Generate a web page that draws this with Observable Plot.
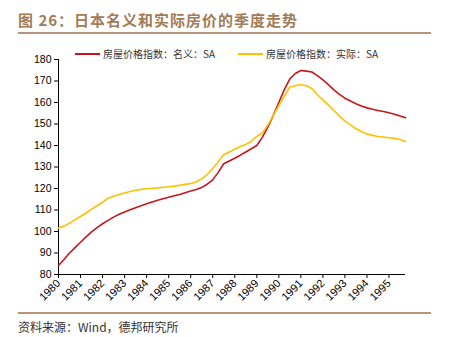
<!DOCTYPE html>
<html><head><meta charset="utf-8">
<script src="https://cdn.jsdelivr.net/npm/d3@7"></script>
<script src="https://cdn.jsdelivr.net/npm/@observablehq/plot@0.6"></script>
<style>
body{margin:0;background:#fff;}
#wrap{position:relative;width:449px;height:337px;overflow:hidden;font-family:"Noto Sans CJK SC",sans-serif;background:#fff;}
#title{position:absolute;left:18px;top:9px;font-size:15px;font-weight:bold;color:#a27b55;white-space:nowrap;letter-spacing:1px;}
.rule{position:absolute;left:18px;width:413px;height:2px;background:#b8957a;}
.leg{position:absolute;top:46px;font-size:10px;color:#333;white-space:nowrap;display:flex;align-items:center;}
.leg span.sw{display:inline-block;width:25px;height:2px;margin-right:3px;}
#chart{position:absolute;left:0;top:40px;}
#src{position:absolute;left:18px;top:318px;font-size:12px;color:#333;white-space:nowrap;}
</style></head><body>
<div id="wrap">
 <div id="title">图 26：日本名义和实际房价的季度走势</div>
 <div class="rule" style="top:32px"></div>
 <div class="leg" style="left:75px"><span class="sw" style="background:#c8161d"></span>房屋价格指数：名义：SA</div>
 <div class="leg" style="left:238px"><span class="sw" style="background:#ffc000"></span>房屋价格指数：实际：SA</div>
 <div id="chart"></div>
 <div class="rule" style="top:312px"></div>
 <div id="src">资料来源：Wind，德邦研究所</div>
</div>
<script>
const years = d3.range(1980, 1996);
const quarters = years.flatMap(y => [1,2,3,4].map(q => `${y}Q${q}`));
const nominal = [
 84.2, 87, 90, 92.5,
 95, 97.5, 99.8, 101.8,
 103.6, 105.2, 106.7, 108,
 109.1, 110.1, 111.1, 112,
 112.9, 113.7, 114.5, 115.2,
 115.9, 116.6, 117.2, 118,
 118.8, 119.5, 120.5, 122,
 124, 127.5, 131.5, 132.8,
 134.1, 135.5, 137, 138.5,
 140, 143.8, 148.5, 154,
 160, 166, 171, 173.5,
 174.9, 174.6, 174.2, 172.5,
 170.5, 168.3, 165.9, 163.8,
 162, 160.7, 159.4, 158.4,
 157.5, 156.9, 156.3, 155.8,
 155.2, 154.5, 153.7, 152.9
];
const real = [
 101.6, 102.5, 103.8, 105.5,
 107, 108.6, 110.4, 112,
 113.6, 115.5, 116.4, 117.2,
 117.9, 118.6, 119.2, 119.6,
 119.9, 120.1, 120.3, 120.6,
 120.8, 121.1, 121.5, 121.9,
 122.3, 123, 124.5, 126.5,
 129.2, 132.5, 135.7, 137,
 138.3, 139.5, 140.5, 142,
 144.2, 145.8, 149.5, 154,
 158.6, 163, 167.2, 167.8,
 168.4, 167.8, 166.5, 163.6,
 161.2, 158.8, 156.3, 153.8,
 151.3, 149.6, 147.8, 146.5,
 145.4, 144.7, 144.2, 143.9,
 143.6, 143.3, 142.8, 141.9
];
const seriesNames = ["房屋价格指数：名义：SA", "房屋价格指数：实际：SA"];
const colors = ["#c8161d", "#ffc000"];
const yTicks = d3.range(80, 181, 10);

const toT = s => +s.slice(0,4) + (+s.slice(5) - 1) / 4;
const data = [
  ...quarters.map((q, i) => ({t: toT(q), v: nominal[i], s: seriesNames[0]})),
  ...quarters.map((q, i) => ({t: toT(q), v: real[i], s: seriesNames[1]}))
];
const tMin = toT(quarters[0]), tMax = toT(quarters[quarters.length - 1]);

const chart = Plot.plot({
  width: 449,
  height: 275,
  marginTop: 19,
  marginBottom: 41,
  marginLeft: 58,
  marginRight: 44,
  style: {fontFamily: "'Liberation Sans', Arial, sans-serif", fontSize: "10px", color: "#000", background: "transparent"},
  x: {domain: [tMin, tMax]},
  y: {domain: [80, 180]},
  color: {domain: seriesNames, range: colors},
  marks: [
    Plot.axisX({ticks: years, tickFormat: d => String(d), tickRotate: -45, tickSize: 4, label: null, fontSize: 11, tickPadding: 3}),
    Plot.axisY({ticks: yTicks, tickSize: 4, label: null, fontSize: 10.5, tickPadding: 3}),
    Plot.ruleY([80], {stroke: "#000", strokeWidth: 1}),
    Plot.ruleX([tMin], {stroke: "#000", strokeWidth: 1}),
    Plot.line(data, {x: "t", y: "v", z: "s", stroke: "s", strokeWidth: 1.6})
  ]
});
document.getElementById("chart").appendChild(chart);
</script>
</body></html>
